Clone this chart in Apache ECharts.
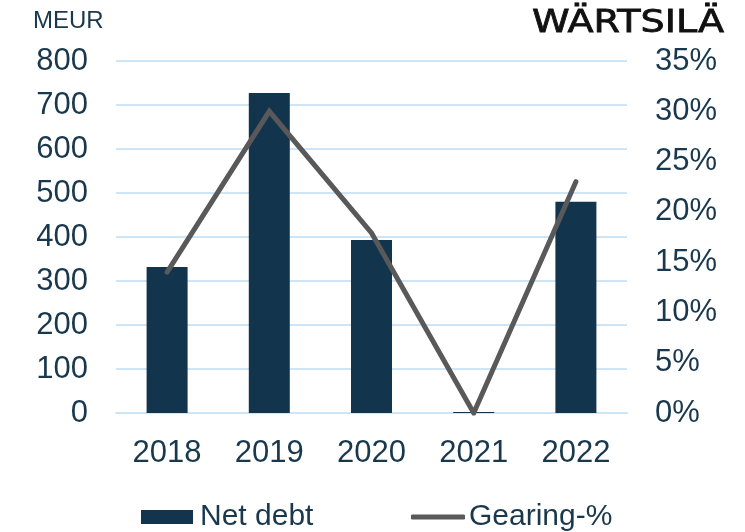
<!DOCTYPE html>
<html>
<head>
<meta charset="utf-8">
<script src="https://cdn.jsdelivr.net/npm/echarts@6/dist/echarts.min.js"></script>
<style>
  html, body { margin: 0; padding: 0; background: #fff; }
  #chart { width: 745px; height: 532px; }
</style>
</head>
<body>
<div id="chart"></div>
<script>
// Net debt (MEUR) and gearing by year
const years = ['2018', '2019', '2020', '2021', '2022'];
const netDebt = [332, 727, 393, 2, 480];
const gearing = [14.0, 30.0, 17.9, 0.0, 23.0];

const textColor = '#19384d';
const barColor = '#12344d';
const lineColor = '#595959';
const gridColor = '#cfe4f4';
const font = '"Liberation Sans", Arial, sans-serif';

const chart = echarts.init(document.getElementById('chart'), null, { renderer: 'canvas' });

chart.setOption({
  animation: false,
  backgroundColor: '#ffffff',
  grid: { left: 116, right: 118, top: 61, bottom: 119, containLabel: false },
  xAxis: {
    type: 'category',
    data: years,
    axisLine: { show: true, lineStyle: { color: gridColor, width: 2 } },
    axisTick: { show: false },
    axisLabel: { color: textColor, fontSize: 31, fontFamily: font, margin: 25 }
  },
  yAxis: [
    {
      type: 'value',
      min: 0, max: 800, interval: 100,
      axisLine: { show: false },
      axisTick: { show: false },
      splitLine: { show: true, lineStyle: { color: gridColor, width: 2 } },
      axisLabel: { color: textColor, fontSize: 31, fontFamily: font, margin: 28 }
    },
    {
      type: 'value',
      min: 0, max: 35, interval: 5,
      position: 'right',
      axisLine: { show: false },
      axisTick: { show: false },
      splitLine: { show: false },
      axisLabel: {
        color: textColor, fontSize: 31, fontFamily: font, margin: 28,
        formatter: v => v + '%'
      }
    }
  ],
  legend: [
    {
      data: [{ name: 'Net debt', icon: 'rect' }],
      left: 136, top: 497,
      itemWidth: 52, itemHeight: 14, itemGap: 0,
      textStyle: { color: textColor, fontSize: 30, fontFamily: font, padding: [0, 0, 6, 2] }
    },
    {
      data: [{ name: 'Gearing-%', icon: 'roundRect' }],
      left: 406, top: 497,
      itemWidth: 54, itemHeight: 5, itemGap: 0,
      textStyle: { color: textColor, fontSize: 30, fontFamily: font, padding: [0, 0, 4, -1] }
    }
  ],
  graphic: [
    {
      type: 'text', left: 33, top: 9,
      style: { text: 'MEUR', fill: textColor, font: '24px ' + font }
    },
    {
      type: 'text', x: 532, y: 8, scaleX: 1.19,
      style: {
        text: 'WÄRTSILÄ', fill: '#111111', font: '32px "DejaVu Sans", sans-serif',
        stroke: '#111111', lineWidth: 0.8
      }
    }
  ],
  series: [
    {
      name: 'Net debt',
      type: 'bar',
      data: netDebt,
      barWidth: 41,
      itemStyle: { color: barColor }
    },
    {
      name: 'Gearing-%',
      type: 'line',
      yAxisIndex: 1,
      data: gearing,
      symbol: 'none',
      itemStyle: { color: lineColor },
      lineStyle: { color: lineColor, width: 5, cap: 'round', join: 'miter' }
    }
  ]
});
</script>
</body>
</html>
